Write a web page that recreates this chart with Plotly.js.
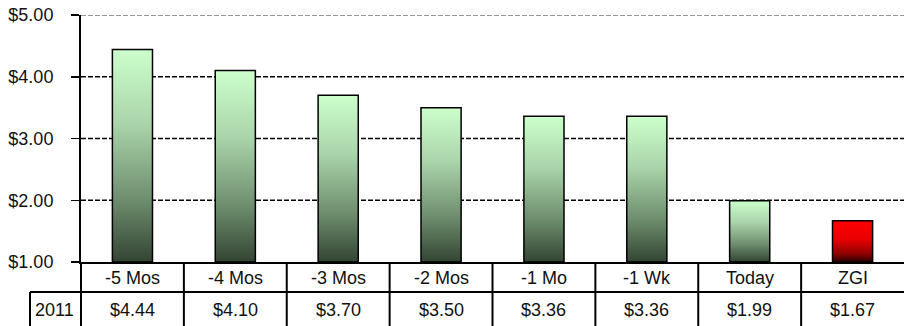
<!DOCTYPE html>
<html>
<head>
<meta charset="utf-8">
<script src="https://cdn.plot.ly/plotly-3.0.1.min.js"></script>
<style>
html,body{margin:0;padding:0;background:#fff;}
#chart{width:904px;height:326px;}
</style>
</head>
<body>
<div id="chart"></div>
<script>
// ---- data ----
const categories = ["-5 Mos", "-4 Mos", "-3 Mos", "-2 Mos", "-1 Mo", "-1 Wk", "Today", "ZGI"];
const prices2011 = [4.44, 4.10, 3.70, 3.50, 3.36, 3.36, 1.99, 1.67];
const seriesLabel = "2011";
const yTickVals = [1, 2, 3, 4, 5];
const yTickText = ["$1.00", "$2.00", "$3.00", "$4.00", "$5.00"];
const highlight = "ZGI";

// ---- styling / layout ----
const W = 904, H = 326;
const M = {l: 81, r: 0, t: 15, b: 64};
const plotW = W - M.l - M.r, plotH = H - M.t - M.b;
const yBase = yTickVals[0];
const px2py = p => (H - M.b - p) / plotH;     // page y pixel -> paper y
const px2px = p => (p - M.l) / plotW;          // page x pixel -> paper x
const fnt = {family: "Liberation Sans, Arial, sans-serif", size: 18, color: "#111"};

const gradKind = categories.map(c => c === highlight ? "gRed" : "gGreen");

const trace = {
  type: "bar",
  x: categories,
  base: yBase,
  y: prices2011.map(v => v - yBase),
  width: 0.39,
  marker: {
    color: categories.map(c => c === highlight ? "#cc0000" : "#88aa88"),
    line: {color: "#000", width: 1.5}
  },
  hoverinfo: "none"
};

const shapes = [];
// dashed gridlines
yTickVals.slice(1).forEach(v => {
  shapes.push({type: "line", xref: "paper", yref: "y", x0: 0, x1: 1, y0: v, y1: v,
    line: {color: v === yTickVals[yTickVals.length - 1] ? "#777" : "#000", width: 1.3, dash: "5px,2px"}, layer: "below"});
});
// data table grid
const rowMid = px2py(292), rowBot = px2py(330);
shapes.push({type: "line", xref: "paper", yref: "paper", x0: px2px(30), x1: 1, y0: rowMid, y1: rowMid, line: {color: "#000", width: 2}});
shapes.push({type: "line", xref: "paper", yref: "paper", x0: px2px(30), x1: px2px(30), y0: rowMid, y1: rowBot, line: {color: "#000", width: 2}});
shapes.push({type: "line", xref: "paper", yref: "paper", x0: 0, x1: 0, y0: 0, y1: rowBot, line: {color: "#000", width: 2}});
categories.forEach((c, i) => {
  if (i === 0) return;
  shapes.push({type: "line", xref: "x", yref: "paper", x0: i - 0.5, x1: i - 0.5, y0: 0, y1: rowBot, line: {color: "#000", width: 2}});
});

const annotations = [];
const row1Y = px2py(277.5), row2Y = px2py(310);
categories.forEach((c, i) => {
  annotations.push({xref: "x", yref: "paper", x: c, y: row1Y, text: c, showarrow: false, font: fnt, xanchor: "center", yanchor: "middle"});
  annotations.push({xref: "x", yref: "paper", x: c, y: row2Y, text: "$" + prices2011[i].toFixed(2), showarrow: false, font: fnt, xanchor: "center", yanchor: "middle"});
});
annotations.push({xref: "paper", yref: "paper", x: px2px(54), y: row2Y, text: seriesLabel, showarrow: false, font: fnt, xanchor: "center", yanchor: "middle"});

const layout = {
  width: W, height: H,
  margin: M,
  paper_bgcolor: "#fff", plot_bgcolor: "#fff",
  showlegend: false,
  xaxis: {type: "category", showticklabels: false, ticks: "", showgrid: false, zeroline: false,
          showline: true, linecolor: "#000", linewidth: 2, range: [-0.5, categories.length - 0.5]},
  yaxis: {range: [yTickVals[0], yTickVals[yTickVals.length - 1]], tickvals: yTickVals, ticktext: yTickText,
          showgrid: false, zeroline: false, showline: true, linecolor: "#000", linewidth: 2,
          ticks: "outside", ticklen: 8, tickwidth: 1.5, tickcolor: "#000",
          ticklabelstandoff: 14, tickfont: fnt},
  shapes: shapes,
  annotations: annotations
};

Plotly.newPlot("chart", [trace], layout, {staticPlot: true, displayModeBar: false}).then(gd => {
  const NS = "http://www.w3.org/2000/svg";
  const svg = gd.querySelector(".main-svg");
  let defs = svg.querySelector("defs");
  if (!defs) { defs = document.createElementNS(NS, "defs"); svg.insertBefore(defs, svg.firstChild); }
  const mk = (id, stops) => {
    const g = document.createElementNS(NS, "linearGradient");
    g.setAttribute("id", id);
    g.setAttribute("x1", "0"); g.setAttribute("y1", "0");
    g.setAttribute("x2", "0"); g.setAttribute("y2", "1");
    stops.forEach(([o, c]) => {
      const s = document.createElementNS(NS, "stop");
      s.setAttribute("offset", o); s.setAttribute("stop-color", c);
      g.appendChild(s);
    });
    defs.appendChild(g);
  };
  mk("gGreen", [[0, "#ccffcc"], [0.35, "#aad4aa"], [0.7, "#6f8f6f"], [1, "#334433"]]);
  mk("gRed", [[0, "#ff0000"], [0.45, "#e80000"], [0.8, "#900000"], [1, "#2a0000"]]);
  gd.querySelectorAll(".barlayer .point path").forEach((p, i) => {
    p.style.fill = "url(#" + gradKind[i] + ")";
  });
});
</script>
</body>
</html>
